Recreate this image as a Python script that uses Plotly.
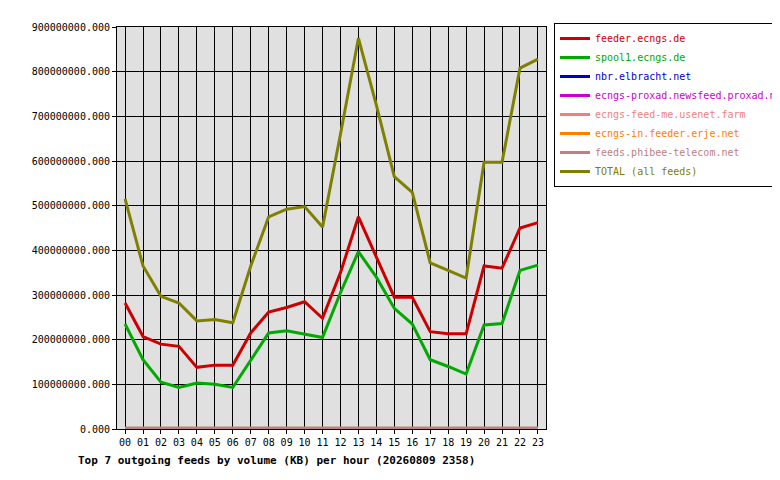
import plotly.graph_objects as go

hours = [f"{h:02d}" for h in range(24)]
names = ["feeder.ecngs.de", "spool1.ecngs.de", "nbr.elbracht.net",
         "ecngs-proxad.newsfeed.proxad.net", "ecngs-feed-me.usenet.farm",
         "ecngs-in.feeder.erje.net", "feeds.phibee-telecom.net", "TOTAL (all feeds)"]
colors = ["#cc0000", "#00aa00", "#0000cc", "#cc00cc", "#f08080", "#ff8000", "#c08080", "#808000"]

feeder = [282,207,190,185,138,143,143,215,262,272,285,248,350,475,385,295,295,218,213,213,365,360,450,462]
spool1 = [235,155,105,93,103,100,93,155,215,220,213,205,305,397,340,270,235,155,140,123,233,236,355,367]
nbr = [1]*24
proxad = [1]*24
usenetfarm = [1]*24
erje = [1]*24
phibee = [2]*24
total = [515,365,297,282,242,245,238,365,475,492,498,452,660,875,725,565,530,372,355,338,597,597,808,828]

series = [feeder, spool1, nbr, proxad, usenetfarm, erje, phibee, total]

fig = go.Figure()
for n, c, s in zip(names, colors, series):
    fig.add_trace(go.Scatter(x=list(range(24)), y=[v*1e6 for v in s],
                             name=f'<span style="color:{c}">{n}</span>', mode="lines",
                             line=dict(color=c, width=3)))

L, R, T, B = 109, 242, 19, 59
pw = 780 - L - R; ph = 480 - T - B
font = dict(family="DejaVu Sans Mono", size=10, color="black")
fig.update_layout(
    width=780, height=480, margin=dict(l=L, r=R, t=T, b=B, autoexpand=False),
    paper_bgcolor="white", plot_bgcolor="#e0e0e0", font=font,
    showlegend=True,
    legend=dict(x=(546 - L) / pw, y=1.01, xanchor="left", yanchor="top", bordercolor="black",
                borderwidth=1, bgcolor="white", font=dict(family="DejaVu Sans Mono", size=10),
                tracegroupgap=0, itemwidth=30),
    xaxis=dict(range=[-0.45, 23.45], tickmode="array", tickvals=list(range(24)), ticktext=hours,
               showgrid=True, gridcolor="black", gridwidth=1, showline=True, linecolor="black",
               mirror=True, zeroline=False, ticks="outside", ticklen=4, tickcolor="black",
               automargin=False),
    yaxis=dict(range=[0, 900e6], dtick=100e6, tickformat=".3f", showgrid=True, gridcolor="black",
               gridwidth=1, showline=True, linecolor="black", mirror=True, zeroline=False,
               ticks="outside", ticklen=4, tickcolor="black", automargin=False),
    annotations=[dict(text="<b>Top 7 outgoing feeds by volume (KB) per hour (20260809 2358)</b>",
                      x=(68 - L) / pw, y=(421 - 452) / ph, xref="paper", yref="paper",
                      showarrow=False, xanchor="left", yanchor="middle",
                      font=dict(family="DejaVu Sans Mono", size=11))],
)
fig.write_html("out.html")
